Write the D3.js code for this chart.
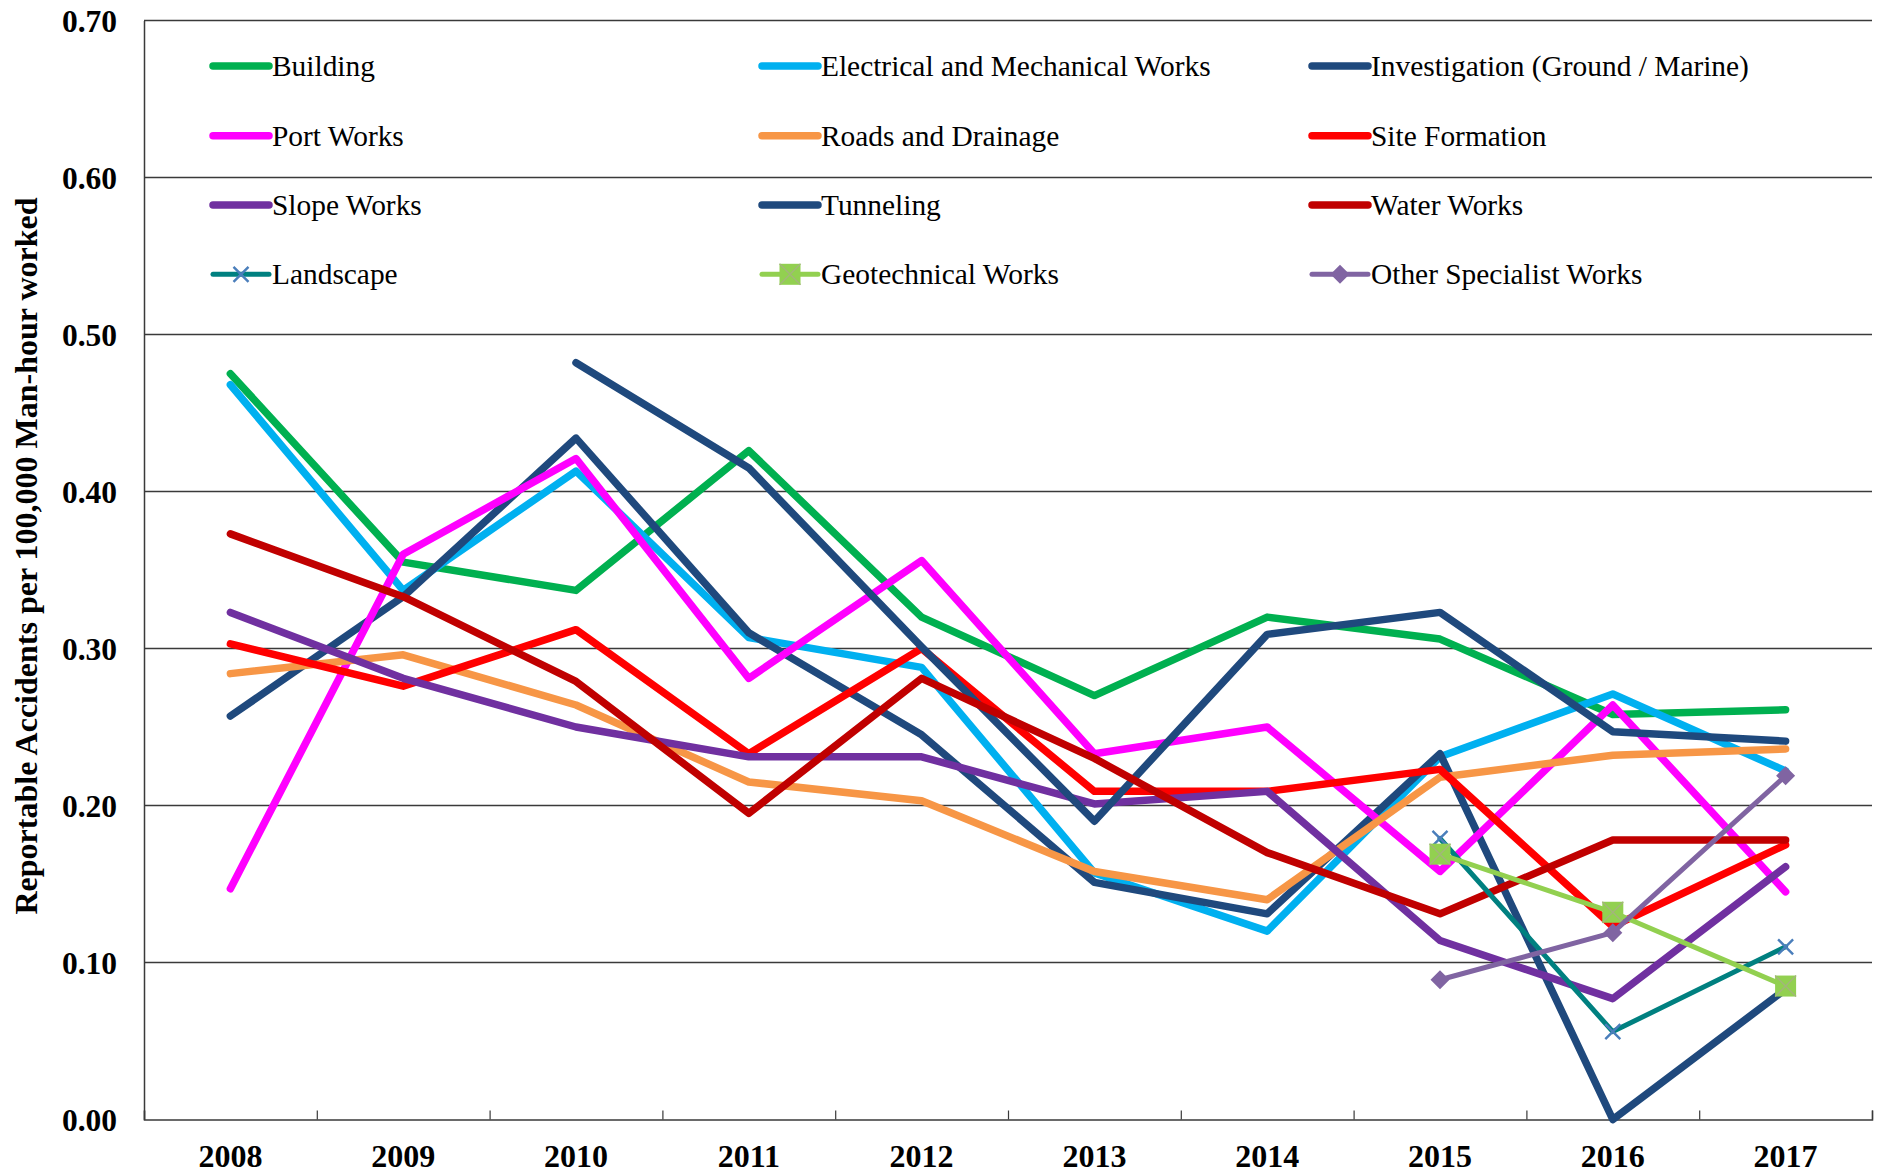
<!DOCTYPE html>
<html><head><meta charset="utf-8">
<script src="https://cdn.jsdelivr.net/npm/d3@7"></script>
<style>body{margin:0;background:#fff} svg{display:block}</style>
</head><body><svg id="c" width="1880" height="1176"></svg>
<script>
const years = ["2008","2009","2010","2011","2012","2013","2014","2015","2016","2017"];
const yTicks = [0,0.1,0.2,0.3,0.4,0.5,0.6,0.7];
const yTitle = "Reportable Accidents per 100,000 Man-hour worked";
const seriesNames = ["Building","Electrical and Mechanical Works","Investigation (Ground / Marine)","Port Works","Roads and Drainage","Site Formation","Slope Works","Tunneling","Water Works","Landscape","Geotechnical Works","Other Specialist Works"];
const seriesColors = ["#00B050","#00B0F0","#1F497D","#FF00FF","#F79646","#FF0000","#7030A0","#1F497D","#C00000","#008080","#92D050","#8064A2"];
const building      = [0.475,0.355,0.337,0.426,0.320,0.270,0.320,0.306,0.258,0.261];
const electrical    = [0.468,0.337,0.413,0.307,0.288,0.157,0.120,0.231,0.271,0.222];
const investigation = [0.257,0.333,0.434,0.310,0.245,0.151,0.131,0.233,0.000,0.083];
const portWorks     = [0.147,0.360,0.421,0.281,0.356,0.233,0.250,0.158,0.264,0.145];
const roads         = [0.284,0.296,0.264,0.215,0.203,0.158,0.140,0.218,0.232,0.236];
const siteFormation = [0.303,0.276,0.312,0.233,0.300,0.209,0.209,0.223,0.123,0.175];
const slopeWorks    = [0.323,0.281,0.250,0.231,0.231,0.201,0.209,0.114,0.077,0.161];
const tunneling     = [null,null,0.482,0.415,0.301,0.190,0.309,0.323,0.247,0.241];
const waterWorks    = [0.373,0.333,0.279,0.195,0.281,0.230,0.170,0.131,0.178,0.178];
const landscape     = [null,null,null,null,null,null,null,0.179,0.056,0.110];
const geotechnical  = [null,null,null,null,null,null,null,0.169,0.132,0.085];
const otherSpecial  = [null,null,null,null,null,null,null,0.089,0.119,0.219];

const allValues = [building,electrical,investigation,portWorks,roads,siteFormation,slopeWorks,tunneling,waterWorks,landscape,geotechnical,otherSpecial];
const markerType = [null,null,null,null,null,null,null,null,null,"x","square","diamond"];
const widths = [7.5,7.5,7.5,7.5,7.5,7.5,7.5,7.5,7.5,5,5,5];

const svg = d3.select("#c");
const L = 144, R = 1872, T = 20.5, B = 1119.5;
const x = d3.scaleBand().domain(years).range([L, R]).padding(0);
const xc = d => x(d) + x.bandwidth()/2;
const xb = d3.scaleLinear().domain([0, years.length]).range([L, R]);
const y = d3.scaleLinear().domain([0, 0.7]).range([B, T]);
const serif = "'Liberation Serif','Times New Roman',serif";

// gridlines
svg.append("g").selectAll("line").data(yTicks.filter(v => v > 0)).join("line")
  .attr("x1", L).attr("x2", R).attr("y1", d => y(d)).attr("y2", d => y(d))
  .attr("stroke", "#3a3a3a").attr("stroke-width", 1.3);

// y axis labels
const yAxis = svg.append("g").attr("transform", `translate(${L},0)`)
  .call(d3.axisLeft(y).tickValues(yTicks).tickFormat(d3.format(".2f")).tickSize(0).tickPadding(27));
yAxis.select(".domain").attr("stroke", "#3a3a3a").attr("stroke-width", 1.5);
yAxis.selectAll("text").attr("font-family", serif).attr("font-weight", "bold")
  .attr("font-size", 31.5).attr("fill", "#000").attr("dy", "0.34em");

// x axis ticks
const xTicksG = svg.append("g").attr("transform", `translate(0,${B})`)
  .call(d3.axisBottom(xb).ticks(years.length).tickSize(-9).tickFormat(""));
xTicksG.select(".domain").attr("stroke", "#3a3a3a").attr("stroke-width", 1.5);
xTicksG.selectAll(".tick line").attr("stroke", "#3a3a3a").attr("stroke-width", 1.2);

// x labels
const xLab = svg.append("g").attr("transform", `translate(0,${B})`)
  .call(d3.axisBottom(x).tickSize(0).tickPadding(0));
xLab.select(".domain").remove();
xLab.selectAll("text").attr("font-family", serif).attr("font-weight", "bold")
  .attr("font-size", 32).attr("fill", "#000").attr("dy", null).attr("y", 47.5);

// y title
svg.append("text").attr("transform", `translate(37,556) rotate(-90)`)
  .attr("text-anchor", "middle").attr("font-family", serif).attr("font-weight", "bold")
  .attr("font-size", 32).attr("fill", "#000").text(yTitle);

// lines
const line = d3.line().defined(d => d.v !== null).x(d => xc(d.year)).y(d => y(d.v));
const series = seriesNames.map((name, i) => ({
  name, color: seriesColors[i], width: widths[i], marker: markerType[i],
  pts: years.map((yr, j) => ({year: yr, v: allValues[i][j]}))
}));

function drawMarker(g, type, cx, cy) {
  if (type === "x") {
    const s = 7.5;
    g.append("path").attr("d", `M${cx-s},${cy-s}L${cx+s},${cy+s}M${cx-s},${cy+s}L${cx+s},${cy-s}`)
      .attr("stroke", "#4A7EBB").attr("stroke-width", 2.4).attr("fill", "none");
  } else if (type === "square") {
    const s = 10.5;
    g.append("rect").attr("x", cx-s).attr("y", cy-s).attr("width", 2*s).attr("height", 2*s)
      .attr("fill", "#92D050");
    g.append("path").attr("d", `M${cx-s},${cy-s}L${cx+s},${cy+s}M${cx-s},${cy+s}L${cx+s},${cy-s}`)
      .attr("stroke", "#A3B57C").attr("stroke-width", 1.4).attr("fill", "none");
  } else if (type === "diamond") {
    const s = 9.5;
    g.append("path").attr("d", `M${cx},${cy-s}L${cx+s},${cy}L${cx},${cy+s}L${cx-s},${cy}Z`)
      .attr("fill", "#8064A2");
  }
}

const linesG = svg.append("g");
series.forEach(s => {
  const g = linesG.append("g");
  g.append("path").datum(s.pts).attr("d", line).attr("fill", "none")
    .attr("stroke", s.color).attr("stroke-width", s.width)
    .attr("stroke-linejoin", "round").attr("stroke-linecap", "round");
  if (s.marker) {
    s.pts.filter(p => p.v !== null).forEach(p => drawMarker(g, s.marker, xc(p.year), y(p.v)));
  }
});

// legend
const legCols = [213, 762, 1312];
const legRows = [66, 135.7, 205, 274.3];
const leg = svg.append("g");
series.forEach((s, i) => {
  const lx = legCols[i % 3], ly = legRows[Math.floor(i / 3)];
  const g = leg.append("g");
  g.append("line").attr("x1", lx).attr("x2", lx + 56).attr("y1", ly).attr("y2", ly)
    .attr("stroke", s.color).attr("stroke-width", s.width).attr("stroke-linecap", "round");
  if (s.marker) drawMarker(g, s.marker, lx + 28, ly);
  g.append("text").attr("x", lx + 59).attr("y", ly).attr("dy", "0.34em")
    .attr("font-family", serif).attr("font-size", 29.4).attr("fill", "#000").text(s.name);
});
</script></body></html>
